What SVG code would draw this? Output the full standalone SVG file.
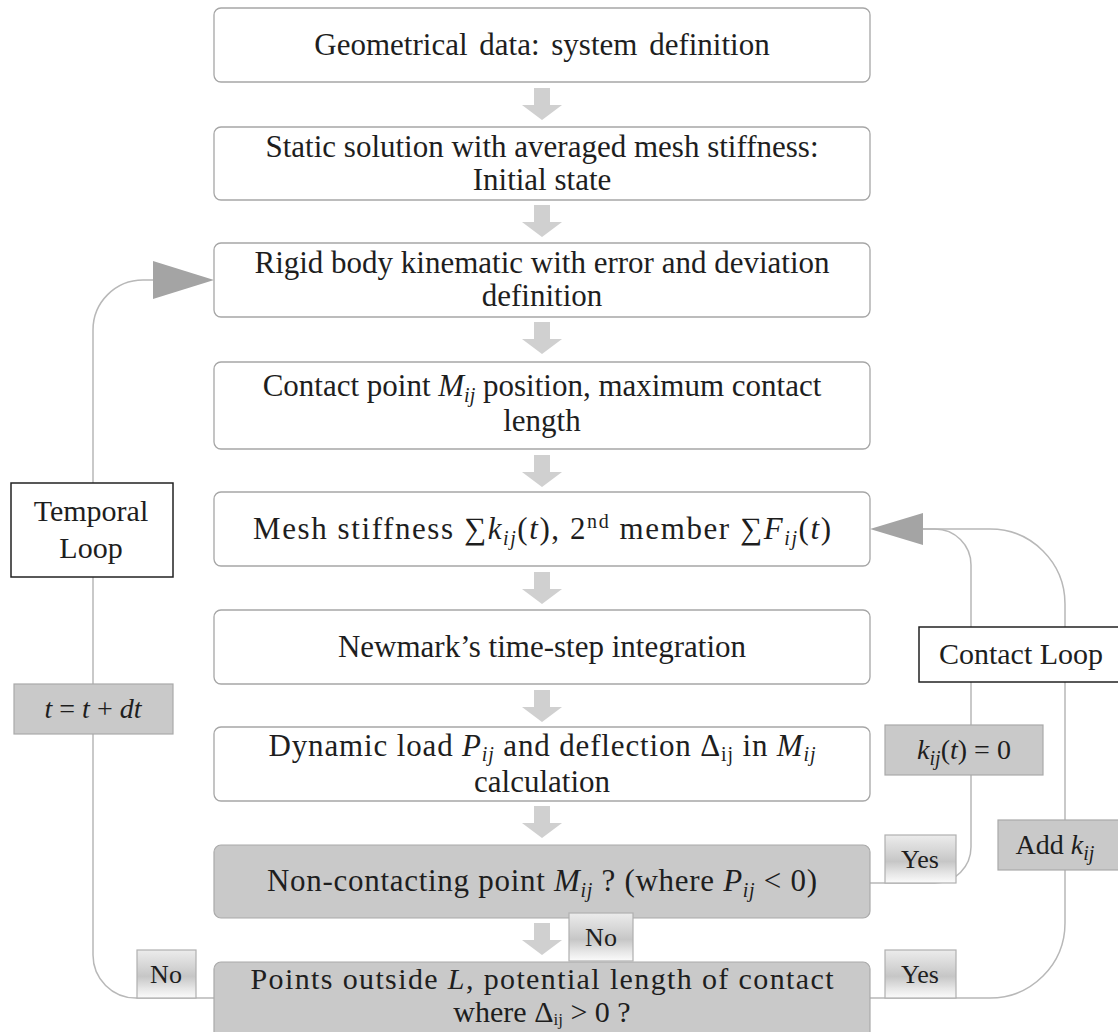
<svg xmlns="http://www.w3.org/2000/svg" xmlns:xlink="http://www.w3.org/1999/xlink" width="1118" height="1032" viewBox="0 0 1118 1032">
<style>
.box{fill:#ffffff;stroke:#a6a6a6;stroke-width:1.3}
.gbox{fill:#c9c9c9;stroke:#aaaaaa;stroke-width:1.2}
.lbl{fill:url(#lg);stroke:#b0b0b0;stroke-width:1.2}
.loopbox{fill:#ffffff;stroke:#222222;stroke-width:1.5}
.t{font-family:"Liberation Serif","Times New Roman",serif;font-size:31px;fill:#1e1e1e;text-anchor:middle}
.s{font-family:"Liberation Serif","Times New Roman",serif;font-size:26px;fill:#1e1e1e;text-anchor:middle}
.i{font-style:italic}
.sub{font-size:20px}
.conn{fill:none;stroke:#b8b8b8;stroke-width:1.5}
.ah{fill:#a4a4a4}
.darr{fill:#d0d0d0}
</style>
<defs>
<linearGradient id="lg" x1="0" y1="0" x2="0" y2="1">
<stop offset="0" stop-color="#ececec"/>
<stop offset="0.3" stop-color="#d8d8d8"/>
<stop offset="0.55" stop-color="#c6c6c6"/>
<stop offset="0.8" stop-color="#e6e6e6"/>
<stop offset="1" stop-color="#fbfbfb"/>
</linearGradient>
<path id="da" class="darr" d="M-8,0 H8 V17 H20 L0,32 L-20,17 H-8 Z"/>
</defs>

<g id="connectors">
<use xlink:href="#da" x="542" y="88"/>
<use xlink:href="#da" x="542" y="205"/>
<use xlink:href="#da" x="542" y="322"/>
<use xlink:href="#da" x="542" y="455"/>
<use xlink:href="#da" x="542" y="572"/>
<use xlink:href="#da" x="542" y="690"/>
<use xlink:href="#da" x="542" y="806"/>
<use xlink:href="#da" x="542" y="923"/>
<path class="conn" d="M214,998 H136 A43,43 0 0 1 93,955 V330 A50,50 0 0 1 143,280 H155"/>
<polygon class="ah" points="153,261 214,280 153,299"/>
<path class="conn" d="M870,883 H935 A36,36 0 0 0 971,847 V565 A36,36 0 0 0 935,529 H921"/>
<path class="conn" d="M870,998 H990 A75,75 0 0 0 1065,923 V604 A75,75 0 0 0 990,529 H921"/>
<polygon class="ah" points="923,513 870,529 923,545"/>
</g>

<g id="n1"><rect class="box" x="214" y="8" width="656" height="74" rx="7"/>
<text class="t" x="542" y="55" word-spacing="4">Geometrical data: system definition</text></g>

<g id="n2"><rect class="box" x="214" y="127" width="656" height="73" rx="7"/>
<text class="t" x="542" y="157">Static solution with averaged mesh stiffness:</text>
<text class="t" x="542" y="190">Initial state</text></g>

<g id="n3"><rect class="box" x="214" y="243" width="656" height="74" rx="7"/>
<text class="t" x="542" y="273">Rigid body kinematic with error and deviation</text>
<text class="t" x="542" y="306">definition</text></g>

<g id="n4"><rect class="box" x="214" y="362" width="656" height="87" rx="7"/>
<text class="t" x="542" y="396">Contact point <tspan class="i">M</tspan><tspan class="sub i" dy="6">ij</tspan><tspan dy="-6"> position, maximum contact</tspan></text>
<text class="t" x="542" y="431">length</text></g>

<g id="n5"><rect class="box" x="214" y="492" width="656" height="74" rx="7"/>
<text class="t" x="542" y="539" textLength="578" lengthAdjust="spacing">Mesh stiffness ∑<tspan class="i">k</tspan><tspan class="sub i" dy="6">ij</tspan><tspan dy="-6">(</tspan><tspan class="i">t</tspan>), 2<tspan class="sub" dy="-11">nd</tspan><tspan dy="11"> member ∑</tspan><tspan class="i">F</tspan><tspan class="sub i" dy="6">ij</tspan><tspan dy="-6">(</tspan><tspan class="i">t</tspan>)</text></g>

<g id="n6"><rect class="box" x="214" y="610" width="656" height="74" rx="7"/>
<text class="t" x="542" y="657">Newmark’s time-step integration</text></g>

<g id="n7"><rect class="box" x="214" y="727" width="656" height="74" rx="7"/>
<text class="t" x="542" y="756" textLength="547" lengthAdjust="spacing">Dynamic load <tspan class="i">P</tspan><tspan class="sub i" dy="5">ij</tspan><tspan dy="-5"> and deflection Δ</tspan><tspan class="sub" dy="5">ij</tspan><tspan dy="-5"> in </tspan><tspan class="i">M</tspan><tspan class="sub i" dy="5">ij</tspan></text>
<text class="t" x="542" y="792">calculation</text></g>

<g id="n8"><rect class="gbox" x="214" y="845" width="656" height="73" rx="7"/>
<text class="t" x="542" y="891" textLength="550" lengthAdjust="spacing">Non-contacting point <tspan class="i">M</tspan><tspan class="sub i" dy="6">ij</tspan><tspan dy="-6"> ? (where </tspan><tspan class="i">P</tspan><tspan class="sub i" dy="6">ij</tspan><tspan dy="-6"> &lt; 0)</tspan></text></g>

<g id="n9"><rect class="gbox" x="214" y="962" width="656" height="90" rx="7"/>
<text class="t" x="542" y="989" style="font-size:30px" textLength="583" lengthAdjust="spacing">Points outside <tspan class="i">L</tspan>, potential length of contact</text>
<text class="t" x="542" y="1022" style="font-size:30px">where Δ<tspan class="sub" dy="3" style="font-size:17px">ij</tspan><tspan dy="-3"> &gt; 0 ?</tspan></text></g>

<g id="temporal-loop"><rect class="loopbox" x="11" y="483" width="162" height="94"/>
<text class="t" x="91" y="521" style="font-size:30px">Temporal</text>
<text class="t" x="91" y="558" style="font-size:30px">Loop</text></g>

<g id="t-update"><rect class="gbox" x="14" y="684" width="159" height="50"/>
<text class="t" x="93" y="718" style="font-size:28px"><tspan class="i">t</tspan> = <tspan class="i">t</tspan> + <tspan class="i">dt</tspan></text></g>

<g id="contact-loop"><rect class="loopbox" x="919" y="627" width="210" height="55"/>
<text class="t" x="1021" y="664" style="font-size:30px">Contact Loop</text></g>

<g id="k-zero"><rect class="gbox" x="885" y="725" width="158" height="50"/>
<text class="t" x="964" y="759" style="font-size:28px"><tspan class="i">k</tspan><tspan class="sub i" dy="6">ij</tspan><tspan dy="-6">(</tspan><tspan class="i">t</tspan>) = 0</text></g>

<g id="add-k"><rect class="gbox" x="998" y="820" width="125" height="50"/>
<text class="t" x="1055" y="854" style="font-size:28px">Add <tspan class="i">k</tspan><tspan class="sub i" dy="6">ij</tspan></text></g>

<g id="yes-upper"><rect class="lbl" x="885" y="835" width="71" height="48"/>
<text class="s" x="920" y="868">Yes</text></g>

<g id="yes-lower"><rect class="lbl" x="885" y="950" width="71" height="48"/>
<text class="s" x="920" y="983">Yes</text></g>

<g id="no-left"><rect class="lbl" x="137" y="950" width="59" height="48"/>
<text class="s" x="166" y="983">No</text></g>

<g id="no-middle"><rect class="lbl" x="569" y="913" width="64" height="48"/>
<text class="s" x="601" y="946">No</text></g>
</svg>
